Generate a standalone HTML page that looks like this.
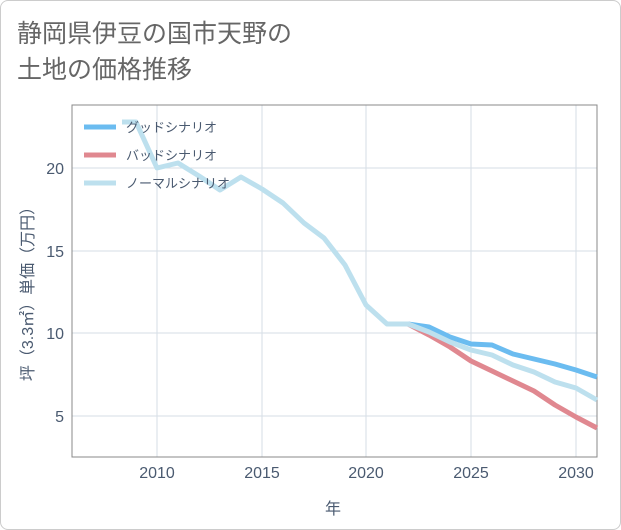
<!DOCTYPE html>
<html><head><meta charset="utf-8"><style>
body{margin:0;background:#fff}
.c{width:619px;height:528px;border:1px solid #ccc;border-radius:8px;position:relative;overflow:hidden;font-family:"Liberation Sans","Noto Sans CJK JP",sans-serif}
</style></head><body><div class="c">
<svg width="621" height="530" style="position:absolute;left:-1px;top:-1px" font-family="Liberation Sans, Noto Sans CJK JP, sans-serif">
<text x="17" y="42" font-size="25" fill="#666">静岡県伊豆の国市天野の</text>
<text x="17" y="78" font-size="25" fill="#666">土地の価格推移</text>
<g stroke="#d5dde5" stroke-width="1">
<line x1="157" y1="105" x2="157" y2="457"/><line x1="262" y1="105" x2="262" y2="457"/><line x1="366" y1="105" x2="366" y2="457"/><line x1="471" y1="105" x2="471" y2="457"/><line x1="576" y1="105" x2="576" y2="457"/>
<line x1="72" y1="168" x2="597" y2="168"/><line x1="72" y1="251" x2="597" y2="251"/><line x1="72" y1="333" x2="597" y2="333"/><line x1="72" y1="416" x2="597" y2="416"/>
</g>
<rect x="72" y="105" width="525" height="352" fill="none" stroke="#888" stroke-width="1"/>
<g font-size="16" fill="#4a5a70" text-anchor="end">
<text x="64" y="174">20</text><text x="64" y="257">15</text><text x="64" y="339">10</text><text x="64" y="422">5</text></g>
<g font-size="16" fill="#4a5a70" text-anchor="middle">
<text x="157" y="478">2010</text><text x="262" y="478">2015</text><text x="366" y="478">2020</text><text x="471" y="478">2025</text><text x="576" y="478">2030</text>
<text x="333" y="514">年</text></g>
<text transform="translate(33,290) rotate(-90)" font-size="16" fill="#4a5a70" text-anchor="middle">坪（3.3㎡）単価（万円）</text>
<g fill="none" stroke-width="5" stroke-linejoin="round" stroke-linecap="butt">
<polyline stroke="#6bbcf0" points="408,324 429,327 450,337 471,344 492,345 513,354 534,359 555,364 576,370 597,377"/>
<polyline stroke="#e08890" points="408,324 429,335 450,347 471,361 492,371 513,381 534,391 555,405 576,417 597,428"/>
<polyline stroke="#bde0ee" points="122,122 136,122 157,168 178,163 199,176 220,190 241,177 262,189 283,203 304,223 324,238 345,265 366,305 387,324 408,324 429,332 450,342 471,350 492,355 513,365 534,372 555,382 576,388 597,400"/>
</g>
<g stroke-width="5"><line x1="84" y1="127" x2="116" y2="127" stroke="#6bbcf0"/><line x1="84" y1="155" x2="116" y2="155" stroke="#e08890"/><line x1="84" y1="183" x2="116" y2="183" stroke="#bde0ee"/></g>
<g font-size="13" fill="#4a5a70"><text x="126" y="132">グッドシナリオ</text><text x="126" y="160">バッドシナリオ</text><text x="126" y="188">ノーマルシナリオ</text></g>
</svg></div></body></html>
